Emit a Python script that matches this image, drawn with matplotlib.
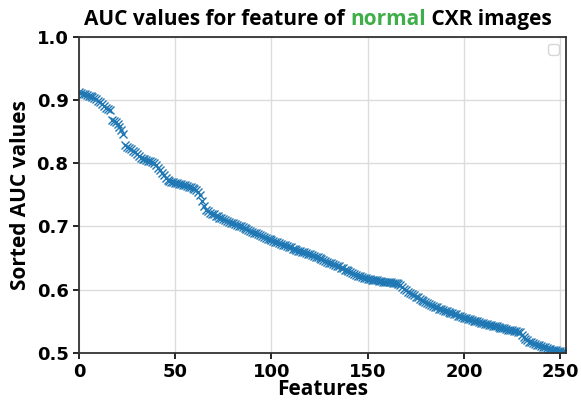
import numpy as np
from matplotlib import pyplot as plt

# sorted AUC value of each feature
auc = [
    0.912, 0.911, 0.910, 0.909, 0.908, 0.907, 0.906, 0.905, 0.903, 0.901,
    0.899, 0.897, 0.894, 0.891, 0.888, 0.886, 0.884, 0.869, 0.867, 0.865,
    0.862, 0.858, 0.852, 0.846, 0.828, 0.826, 0.824, 0.822, 0.820, 0.817,
    0.814, 0.811, 0.809, 0.807, 0.806, 0.805, 0.804, 0.803, 0.802, 0.800,
    0.797, 0.793, 0.789, 0.785, 0.781, 0.777, 0.774, 0.772, 0.771, 0.770,
    0.769, 0.768, 0.767, 0.767, 0.766, 0.765, 0.764, 0.763, 0.762, 0.761,
    0.759, 0.757, 0.754, 0.749, 0.741, 0.732, 0.726, 0.724, 0.722, 0.720,
    0.719, 0.717, 0.716, 0.714, 0.713, 0.712, 0.710, 0.709, 0.707, 0.706,
    0.705, 0.704, 0.702, 0.701, 0.700, 0.699, 0.697, 0.696, 0.694, 0.693,
    0.692, 0.690, 0.689, 0.688, 0.686, 0.685, 0.684, 0.682, 0.681, 0.680,
    0.679, 0.677, 0.676, 0.675, 0.674, 0.672, 0.671, 0.670, 0.669, 0.668,
    0.667, 0.665, 0.664, 0.663, 0.662, 0.661, 0.660, 0.659, 0.658, 0.657,
    0.656, 0.655, 0.654, 0.652, 0.651, 0.650, 0.648, 0.647, 0.646, 0.644,
    0.643, 0.642, 0.641, 0.639, 0.638, 0.637, 0.635, 0.634, 0.632, 0.631,
    0.629, 0.628, 0.626, 0.625, 0.623, 0.622, 0.621, 0.620, 0.619, 0.618,
    0.617, 0.617, 0.616, 0.616, 0.615, 0.615, 0.614, 0.614, 0.613, 0.613,
    0.612, 0.612, 0.612, 0.611, 0.611, 0.610, 0.609, 0.607, 0.604, 0.601,
    0.599, 0.597, 0.595, 0.593, 0.591, 0.589, 0.588, 0.586, 0.584, 0.583,
    0.581, 0.579, 0.578, 0.576, 0.575, 0.573, 0.572, 0.570, 0.569, 0.568,
    0.567, 0.566, 0.565, 0.564, 0.563, 0.562, 0.561, 0.559, 0.558, 0.557,
    0.556, 0.555, 0.554, 0.553, 0.552, 0.551, 0.551, 0.550, 0.549, 0.548,
    0.547, 0.546, 0.546, 0.545, 0.544, 0.543, 0.543, 0.542, 0.541, 0.540,
    0.540, 0.539, 0.538, 0.537, 0.537, 0.536, 0.535, 0.535, 0.534, 0.533,
    0.529, 0.525, 0.522, 0.520, 0.518, 0.517, 0.516, 0.515, 0.513, 0.512,
    0.511, 0.510, 0.509, 0.508, 0.507, 0.506, 0.505, 0.504, 0.504, 0.503,
    0.503, 0.502, 0.502, 0.501,
]
features = np.arange(len(auc))

title_parts = ["AUC values for feature of ", "normal", " CXR images"]
title_colors = ["black", "#3fae49", "black"]
xticks = [0, 50, 100, 150, 200, 250]
yticks = [0.5, 0.6, 0.7, 0.8, 0.9, 1.0]

fig = plt.figure(figsize=(5.81, 4.03), dpi=100)
ax = fig.add_axes([0.136, 0.124, 0.838, 0.785])

ax.plot(features, auc, 'x', color='#1f77b4', markersize=6, markeredgewidth=1.0)

ax.set_xlim(0, 253)
ax.set_ylim(0.5, 1.0)
ax.set_xticks(xticks)
ax.set_yticks(yticks)
ax.grid(True, color='#dcdcdc', linewidth=1)
ax.set_axisbelow(True)
for s in ax.spines.values():
    s.set_linewidth(1.3)
    s.set_color('#333333')
ax.tick_params(labelsize=13, width=1.2, length=4)
for lab in ax.get_xticklabels() + ax.get_yticklabels():
    lab.set_fontweight('bold')

ax.set_xlabel('Features', family='Open Sans', fontsize=15, fontweight='bold', labelpad=-2)
ax.set_ylabel('Sorted AUC values', family='Open Sans', fontsize=15, fontweight='bold', labelpad=4)

ax.legend(handles=[], loc='upper right')

# multi-coloured title, pieces chained one after the other
t1 = fig.text(0.15, 0.937, title_parts[0], family='Open Sans', fontsize=15,
              fontweight='bold', color=title_colors[0], va='baseline')
prev = t1
pieces = [t1]
for txt, col in zip(title_parts[1:], title_colors[1:]):
    t = ax.annotate(txt, xycoords=prev, xy=(1, 0), va='bottom', family='Open Sans',
                    fontsize=15, fontweight='bold', color=col, annotation_clip=False)
    pieces.append(t)
    prev = t
fig.canvas.draw()
r = fig.canvas.get_renderer()
left = pieces[0].get_window_extent(r).x0
right = pieces[-1].get_window_extent(r).x1
center = 318
t1.set_x(t1.get_position()[0] + (center - (left + right) / 2) / fig.bbox.width)

fig.savefig('out.png', dpi=100)
